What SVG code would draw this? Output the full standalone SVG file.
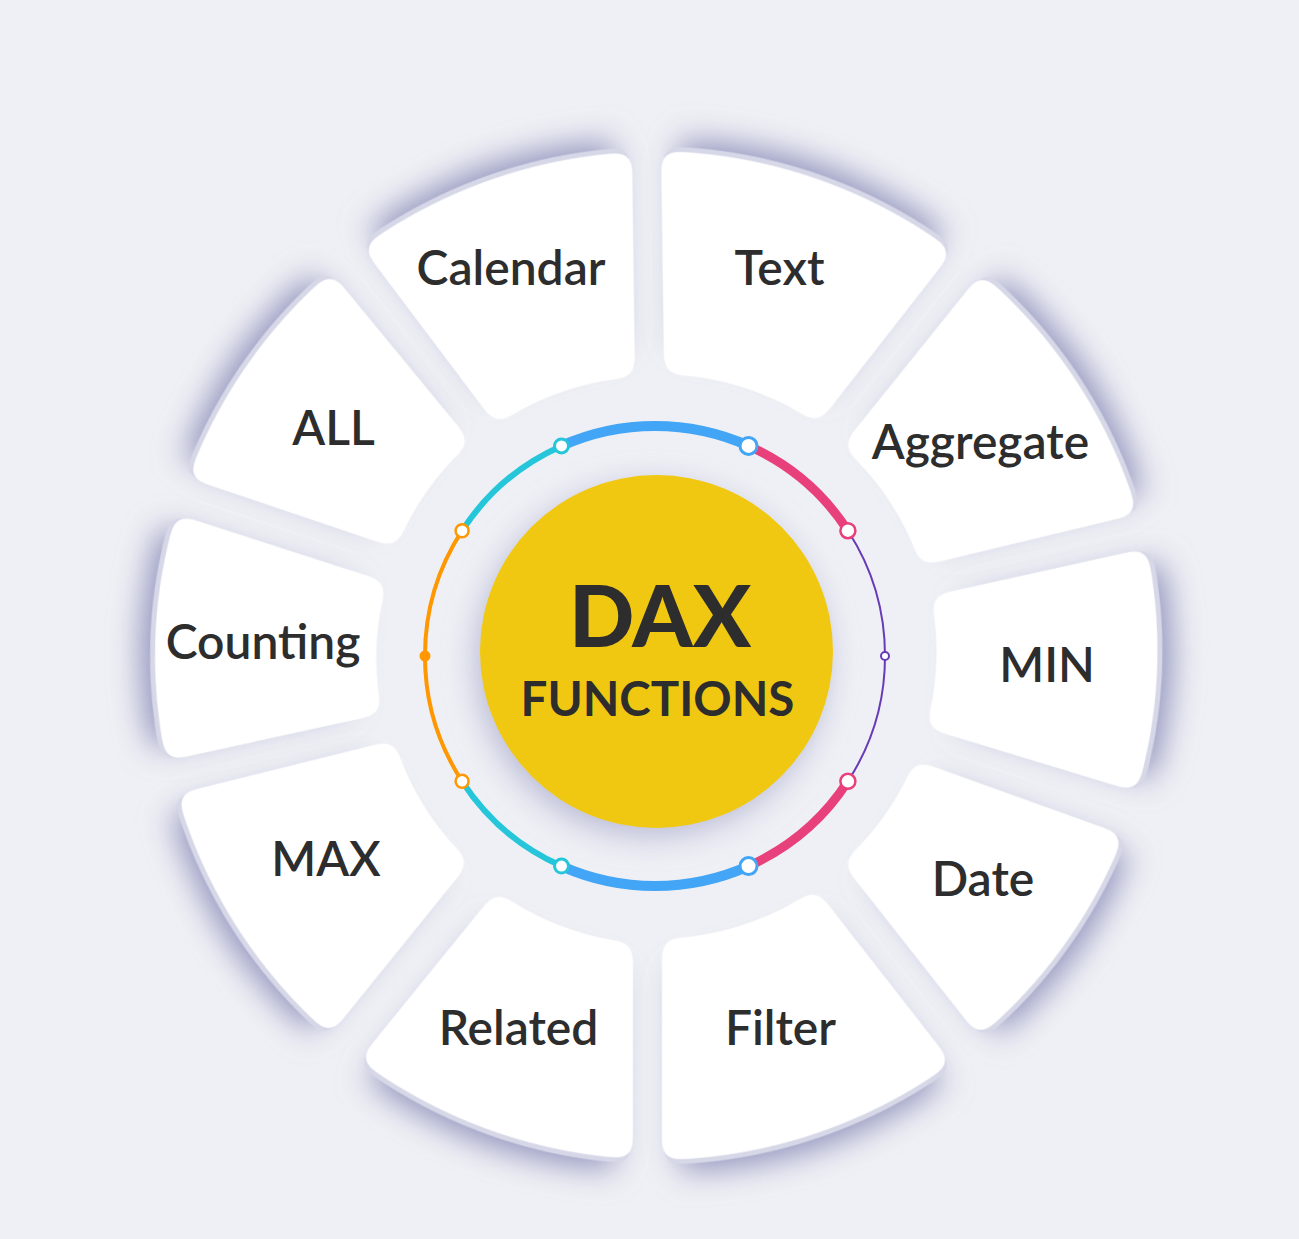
<svg xmlns="http://www.w3.org/2000/svg" width="1299" height="1239" viewBox="0 0 1299 1239">
<defs>
<style>
.lbl{font-family:Lato,"Noto Sans","Liberation Sans",sans-serif;font-weight:600;font-size:48px;fill:#2d2d2d;text-anchor:middle}
.tile{fill:#ffffff}
.arc{fill:none;stroke-linecap:butt}
.mk{fill:#ffffff}
</style>
<filter id="tile" x="-40%" y="-40%" width="180%" height="180%" color-interpolation-filters="sRGB">
 <feGaussianBlur in="SourceAlpha" stdDeviation="9" result="b"/>
 <feComponentTransfer in="b" result="shape"><feFuncA type="linear" slope="20" intercept="-9.5"/></feComponentTransfer>
 <feMorphology in="shape" operator="erode" radius="8" result="er"/>
 <feGaussianBlur in="er" stdDeviation="16" result="sb"/>
 <feOffset in="sb" dx="22" dy="0" result="so"/>
 <feFlood flood-color="#6e70a8" flood-opacity="0.74"/>
 <feComposite in2="so" operator="in" result="shadow"/>
 <feOffset in="shape" dx="4.5" dy="0" result="ro"/>
 <feFlood flood-color="#d6d7e7"/>
 <feComposite in2="ro" operator="in" result="rim"/>
 <feFlood flood-color="#ffffff"/>
 <feComposite in2="shape" operator="in" result="face"/>
 <feMerge><feMergeNode in="shadow"/><feMergeNode in="rim"/><feMergeNode in="face"/></feMerge>
</filter>
<filter id="sun" x="-30%" y="-30%" width="160%" height="160%" color-interpolation-filters="sRGB">
 <feDropShadow dx="-5" dy="9" stdDeviation="15" flood-color="#979ac2" flood-opacity="0.6"/>
</filter>
</defs>
<rect width="1299" height="1239" fill="#eff0f5"/>

<g id="node-text">
 <g transform="rotate(-71.6 656 655)" filter="url(#tile)"><path class="tile" transform="rotate(71.6 656 655)" d="M661,151 A503,503 0 0 1 953,251 L818,424 A282,282 0 0 0 664,374 Z"/></g>
 <text class="lbl" x="779.5" y="285">Text</text>
</g>
<g id="node-calendar">
 <g transform="rotate(-109.4 656 655)" filter="url(#tile)"><path class="tile" transform="rotate(109.4 656 655)" d="M362,247 A503,503 0 0 1 632,152 L635,377 A280,280 0 0 0 496,425 Z"/></g>
 <text class="lbl" x="511" y="285">Calendar</text>
</g>
<g id="node-all">
 <g transform="rotate(-144.6 656 655)" filter="url(#tile)"><path class="tile" transform="rotate(144.6 656 655)" d="M188,478 A500,500 0 0 1 331,272 L471,442 A280,280 0 0 0 396,548 Z"/></g>
 <text class="lbl" x="333.5" y="445">ALL</text>
</g>
<g id="node-counting">
 <g transform="rotate(181.9 656 655)" filter="url(#tile)"><path class="tile" transform="rotate(-181.9 656 655)" d="M166,761 A500,500 0 0 1 176,514 L387,582 A275,275 0 0 0 382,714 Z"/></g>
 <text class="lbl" x="263" y="659">Counting</text>
</g>
<g id="node-max">
 <g transform="rotate(147.1 656 655)" filter="url(#tile)"><path class="tile" transform="rotate(-147.1 656 655)" d="M330,1035 A500,500 0 0 1 177,794 L394,740 A278,278 0 0 0 470,862 Z"/></g>
 <text class="lbl" x="326" y="876">MAX</text>
</g>
<g id="node-related">
 <g transform="rotate(109.3 656 655)" filter="url(#tile)"><path class="tile" transform="rotate(-109.3 656 655)" d="M633,1159 A505,505 0 0 1 359,1060 L496,891 A285,285 0 0 0 633,943 Z"/></g>
 <text class="lbl" x="518.5" y="1045">Related</text>
</g>
<g id="node-filter">
 <g transform="rotate(71.9 656 655)" filter="url(#tile)"><path class="tile" transform="rotate(-71.9 656 655)" d="M952,1063 A505,505 0 0 1 662,1160 L662,939 A284,284 0 0 0 816,889 Z"/></g>
 <text class="lbl" x="780.5" y="1045">Filter</text>
</g>
<g id="node-date">
 <g transform="rotate(35.3 656 655)" filter="url(#tile)"><path class="tile" transform="rotate(-35.3 656 655)" d="M1124,835 A500,500 0 0 1 979,1037 L842,863 A279,279 0 0 0 915,760 Z"/></g>
 <text class="lbl" x="983" y="896">Date</text>
</g>
<g id="node-min">
 <g transform="rotate(1.7 656 655)" filter="url(#tile)"><path class="tile" transform="rotate(-1.7 656 655)" d="M1147,548 A503,503 0 0 1 1137,792 L926,728 A280,280 0 0 0 931,596 Z"/></g>
 <text class="lbl" x="1047" y="682">MIN</text>
</g>
<g id="node-aggregate">
 <g transform="rotate(-33.1 656 655)" filter="url(#tile)"><path class="tile" transform="rotate(33.1 656 655)" d="M981,273 A503,503 0 0 1 1138,514 L921,566 A279,279 0 0 0 842,446 Z"/></g>
 <text class="lbl" x="980.5" y="459">Aggregate</text>
</g>

<g id="connectors">
 <path class="arc" stroke="#42a5f5" stroke-width="10" d="M561.5,445.9 A230,230 0 0 1 748.5,445.9"/>
 <path class="arc" stroke="#e8407a" stroke-width="9" d="M748.5,445.9 A230,230 0 0 1 847.9,530.7"/>
 <path class="arc" stroke="#673ab7" stroke-width="2" d="M847.9,530.7 A230,230 0 0 1 847.9,781.3"/>
 <path class="arc" stroke="#e8407a" stroke-width="9" d="M847.9,781.3 A230,230 0 0 1 748.5,866.1"/>
 <path class="arc" stroke="#42a5f5" stroke-width="10" d="M748.5,866.1 A230,230 0 0 1 561.5,866.1"/>
 <path class="arc" stroke="#26c6da" stroke-width="6" d="M561.5,866.1 A230,230 0 0 1 462.1,781.3"/>
 <path class="arc" stroke="#ff9800" stroke-width="4" d="M462.1,781.3 A230,230 0 0 1 462.1,530.7"/>
 <path class="arc" stroke="#26c6da" stroke-width="6" d="M462.1,530.7 A230,230 0 0 1 561.5,445.9"/>
 <circle class="mk" cx="748.5" cy="445.9" r="8.5" stroke="#42a5f5" stroke-width="3"/>
 <circle class="mk" cx="561.5" cy="445.9" r="7" stroke="#26c6da" stroke-width="3"/>
 <circle class="mk" cx="847.9" cy="530.7" r="7.5" stroke="#e8407a" stroke-width="2.5"/>
 <circle class="mk" cx="462.1" cy="530.7" r="6.5" stroke="#ff9800" stroke-width="2.5"/>
 <circle class="mk" cx="885" cy="656" r="4" stroke="#673ab7" stroke-width="2"/>
 <circle cx="425" cy="656" r="5.5" fill="#ff9800"/>
 <circle class="mk" cx="847.9" cy="781.3" r="7.5" stroke="#e8407a" stroke-width="2.5"/>
 <circle class="mk" cx="748.5" cy="866.1" r="8.5" stroke="#42a5f5" stroke-width="3"/>
 <circle class="mk" cx="561.5" cy="866.1" r="7" stroke="#26c6da" stroke-width="3"/>
 <circle class="mk" cx="462.1" cy="781.3" r="6.5" stroke="#ff9800" stroke-width="2.5"/>
</g>

<g id="center">
 <circle cx="656.5" cy="651.5" r="176.5" fill="#f1c811" filter="url(#sun)"/>
 <text x="660" y="647" text-anchor="middle" font-family="Lato,'Noto Sans','Liberation Sans',sans-serif" font-weight="900" font-size="86" fill="#2d2d2d">DAX</text>
 <text x="657.5" y="716" text-anchor="middle" font-family="Lato,'Noto Sans','Liberation Sans',sans-serif" font-weight="700" font-size="47.5" fill="#2d2d2d">FUNCTIONS</text>
</g>
</svg>
